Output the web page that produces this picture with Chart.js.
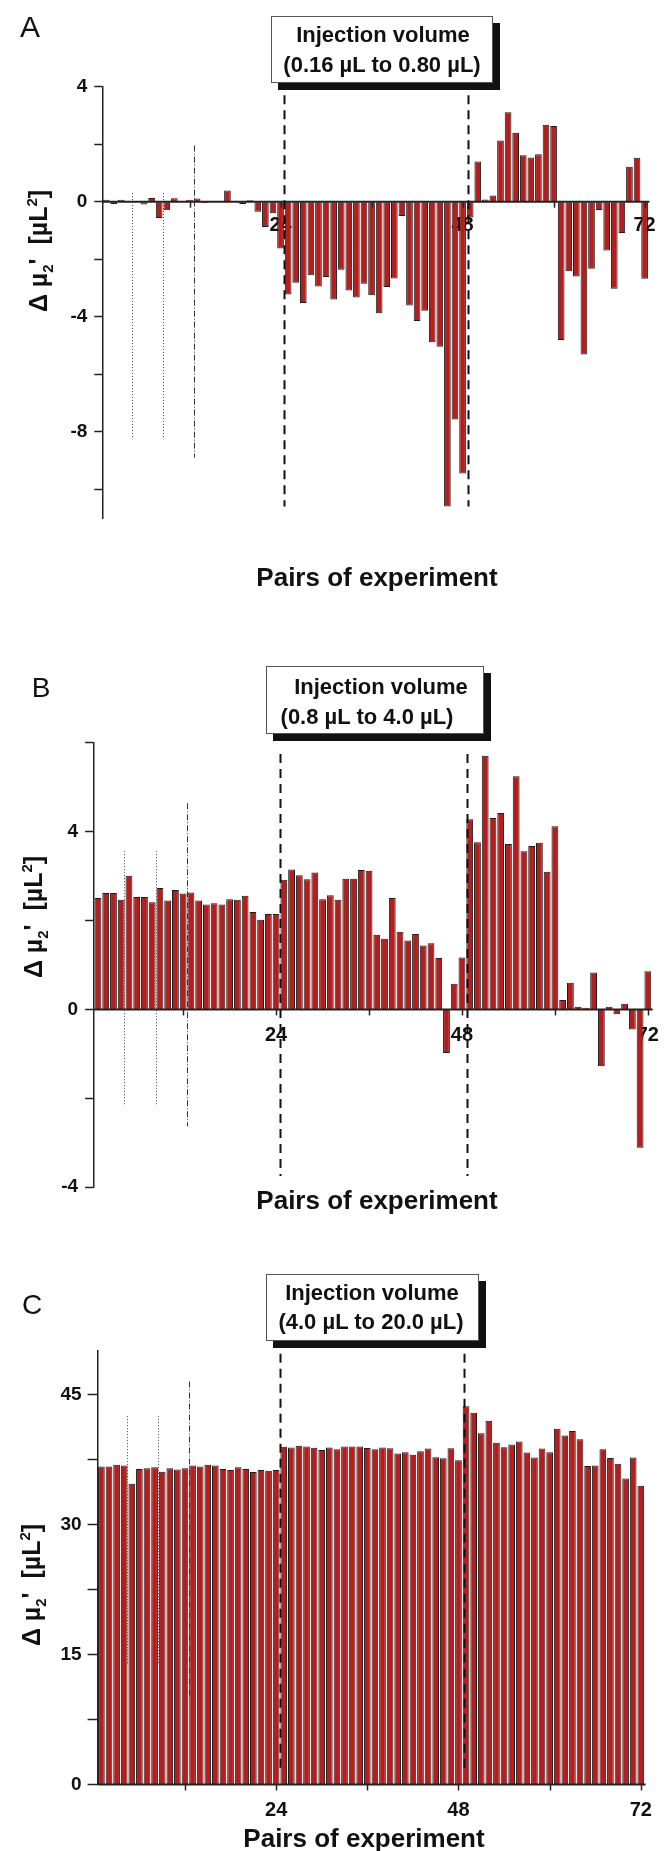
<!DOCTYPE html>
<html>
<head>
<meta charset="utf-8">
<script src="https://cdn.jsdelivr.net/npm/chart.js@4.4.1/dist/chart.umd.min.js"></script>
<style>
  html, body { margin:0; padding:0; background:#fff; }
  body { width:664px; height:1851px; position:relative; overflow:hidden; }
  canvas { position:absolute; left:0; }
  .t { position:absolute; transform:translate(-50%,-50%); white-space:nowrap; line-height:1;
       font-family:'Liberation Sans', Arial, Helvetica, sans-serif; color:#111; }
  .b { font-weight:bold; }
  .box { position:absolute; background:#fff; border:1.5px solid #555; box-shadow:7px 7px 0 #111; box-sizing:border-box; }
  .yt { transform:translate(-50%,-50%) rotate(-90deg); font-weight:bold; font-size:25px; }
  .yt sub, .yt sup { font-size:15px; line-height:0; }
</style>
</head>
<body>
<canvas id="cA" width="664" height="600" style="top:0px"></canvas>
<canvas id="cB" width="664" height="600" style="top:630px"></canvas>
<canvas id="cC" width="664" height="591" style="top:1260px"></canvas>

<!-- Panel A annotations -->
<div class="t" style="left:30px;top:27px;font-size:30px">A</div>
<div class="box" style="left:271px;top:16px;width:222px;height:67px"></div>
<div class="t b" style="left:383px;top:35px;font-size:22px">Injection volume</div>
<div class="t b" style="left:382px;top:65px;font-size:22px">(0.16 µL to 0.80 µL)</div>
<div class="t yt" style="left:38px;top:251px">Δ µ<sub>2</sub>'&nbsp;&nbsp;[µL<sup>2</sup>]</div>
<div class="t b" style="left:377px;top:577px;font-size:26px">Pairs of experiment</div>

<!-- Panel B annotations -->
<div class="t" style="left:41px;top:688px;font-size:28px">B</div>
<div class="box" style="left:266px;top:666px;width:218px;height:68px"></div>
<div class="t b" style="left:381px;top:687px;font-size:22px">Injection volume</div>
<div class="t b" style="left:367px;top:717px;font-size:22px">(0.8 µL to 4.0 µL)</div>
<div class="t yt" style="left:33px;top:917px">Δ µ<sub>2</sub>'&nbsp;&nbsp;[µL<sup>2</sup>]</div>
<div class="t b" style="left:377px;top:1200px;font-size:26px">Pairs of experiment</div>

<!-- Panel C annotations -->
<div class="t" style="left:32px;top:1305px;font-size:28px">C</div>
<div class="box" style="left:266px;top:1274px;width:213px;height:67px"></div>
<div class="t b" style="left:372px;top:1293px;font-size:22px">Injection volume</div>
<div class="t b" style="left:371px;top:1322px;font-size:22px">(4.0 µL to 20.0 µL)</div>
<div class="t yt" style="left:31px;top:1585px">Δ µ<sub>2</sub>'&nbsp;&nbsp;[µL<sup>2</sup>]</div>
<div class="t b" style="left:364px;top:1838px;font-size:26px">Pairs of experiment</div>

<script>
// ---------------- data ----------------
const pairs = [1,2,3,4,5,6,7,8,9,10,11,12,13,14,15,16,17,18,19,20,21,22,23,24,
  25,26,27,28,29,30,31,32,33,34,35,36,37,38,39,40,41,42,43,44,45,46,47,48,
  49,50,51,52,53,54,55,56,57,58,59,60,61,62,63,64,65,66,67,68,69,70,71,72];

// Panel A: injection volume 0.16 µL to 0.80 µL
const deltaA = [0.07,-0.08,0.07,0.02,0.01,-0.10,0.13,-0.57,-0.30,0.12,0.01,0.07,
  0.11,-0.05,-0.02,-0.02,0.39,0.01,-0.08,0.05,-0.35,-0.88,-0.40,-1.63,
  -3.23,-2.82,-3.52,-2.56,-2.95,-2.62,-3.40,-2.37,-3.09,-3.33,-2.85,-3.25,
  -3.88,-2.97,-2.67,-0.50,-3.61,-4.15,-3.79,-4.89,-5.04,-10.6,-7.57,-9.45,
  -0.55,1.40,0.08,0.22,2.13,3.11,2.40,1.62,1.54,1.65,2.68,2.63,
  -4.81,-2.42,-2.60,-5.31,-2.33,-0.29,-1.70,-3.03,-1.09,1.22,1.53,-2.68];

// Panel B: injection volume 0.8 µL to 4.0 µL
const deltaB = [2.51,2.62,2.62,2.47,3.01,2.53,2.53,2.41,2.73,2.45,2.69,2.61,
  2.63,2.45,2.36,2.39,2.36,2.48,2.47,2.56,2.19,2.02,2.15,2.15,
  2.92,3.15,3.02,2.93,3.08,2.48,2.57,2.47,2.94,2.94,3.14,3.12,
  1.68,1.59,2.51,1.75,1.55,1.70,1.44,1.49,1.16,-0.98,0.58,1.17,
  4.28,3.76,5.71,4.31,4.42,3.72,5.25,3.56,3.68,3.75,3.10,4.12,
  0.21,0.60,0.06,0.04,0.83,-1.28,0.06,-0.11,0.13,-0.45,-3.11,0.86];

// Panel C: injection volume 4.0 µL to 20.0 µL
const deltaC = [36.7,36.7,36.9,36.8,34.7,36.4,36.5,36.6,36.1,36.5,36.35,36.5,
  36.8,36.7,36.9,36.8,36.4,36.3,36.6,36.4,36.05,36.3,36.2,36.3,
  38.96,38.9,39.1,39.0,38.85,38.6,38.9,38.7,39.0,39.0,39.0,38.84,
  38.69,38.88,38.8,38.19,38.34,38.04,38.46,38.76,37.77,37.65,38.8,37.42,
  43.66,42.9,40.52,41.98,39.45,38.92,39.22,39.57,38.3,37.73,38.76,38.34,
  41.06,40.26,40.79,39.84,36.74,36.81,38.69,37.69,37.0,35.32,37.73,34.48];

// tick marks / labels
const xTickMarks = [12,24,36,48,60,72];
const xTickLabels = [24,48,72];
const yLabelsA = [4,0,-4,-8];
const yLabelsB = [4,0,-4];
const yLabelsC = [0,15,30,45];

// marker lines (pair positions) and their value extents per panel
const dashedPairs = [24.5, 48.7];
const dottedPairs = [4.4, 8.5];
const dashDotPairs = [12.55];
const dashedSpanA = [-10.6, 3.7],  dottedSpanA = [-8.25, 0.3],  dashDotSpanA = [-8.9, 1.95];
const dashedSpanB = [-3.75, 5.75], dottedSpanB = [-2.18, 3.56], dashDotSpanB = [-2.63, 4.64];
const dashedSpanC = [1.5, 49.7],   dottedSpanC = [13.8, 42.5],  dashDotSpanC = [10, 46.5];

// ---------------- drawing ----------------
const FONT = "'Liberation Sans', Arial, Helvetica, sans-serif";
const BAR = '#b31f1e';

const overlay = {
  id: 'overlay',
  beforeDatasetsDraw(chart, args, o) {
    const {ctx, scales: {x, y}} = chart;
    const y0 = y.getPixelForValue(0);
    ctx.save();
    ctx.font = 'bold 20px ' + FONT;
    ctx.fillStyle = '#111';
    ctx.textAlign = 'center';
    ctx.textBaseline = 'middle';
    xTickLabels.forEach(v => ctx.fillText(String(v), x.getPixelForValue(v - 1), y0 + o.labelOffset));
    ctx.restore();
  },
  afterDatasetsDraw(chart, args, o) {
    const {ctx, chartArea: a, scales: {x, y}} = chart;
    const y0 = y.getPixelForValue(0);
    ctx.save();
    // zero line / x axis
    ctx.strokeStyle = '#222'; ctx.lineWidth = 2;
    ctx.beginPath(); ctx.moveTo(a.left, y0); ctx.lineTo(a.right + 1, y0); ctx.stroke();
    // tick marks
    ctx.lineWidth = 1.5;
    xTickMarks.forEach(v => {
      const px = Math.round(x.getPixelForValue(v - 1)) + 0.5;
      ctx.beginPath(); ctx.moveTo(px, y0); ctx.lineTo(px, y0 + 6); ctx.stroke();
    });
    const vline = (p, span, dash, w, col) => {
      const px = Math.round(x.getPixelForValue(p - 1)) + 0.5;
      ctx.setLineDash(dash); ctx.lineWidth = w; ctx.strokeStyle = col;
      ctx.beginPath(); ctx.moveTo(px, y.getPixelForValue(span[1])); ctx.lineTo(px, y.getPixelForValue(span[0])); ctx.stroke();
    };
    dottedPairs.forEach(p => vline(p, o.dotted, [1, 2], 1, '#444'));
    dashDotPairs.forEach(p => vline(p, o.dashDot, [6, 2, 1, 2], 1, '#333'));
    dashedPairs.forEach(p => vline(p, o.dashed, [9, 6], 2, '#111'));
    ctx.restore();
  }
};

function makeChart(id, series, o) {
  return new Chart(document.getElementById(id), {
    type: 'bar',
    data: { labels: pairs, datasets: [{
      data: series, backgroundColor: BAR, borderColor: '#1c1c1c', borderWidth: 1,
      barPercentage: 0.88, categoryPercentage: 1
    }]},
    options: {
      responsive: false, animation: false, devicePixelRatio: 1,
      layout: { padding: { left: 0, right: o.padR, top: o.padT, bottom: o.padB } },
      plugins: {
        legend: { display: false }, tooltip: { enabled: false },
        overlay: { labelOffset: o.labelOffset, dashed: o.dashed, dotted: o.dotted, dashDot: o.dashDot }
      },
      scales: {
        x: { type: 'category', display: false, offset: true },
        y: {
          min: o.min, max: o.max,
          afterFit: s => { s.width = o.axisX; },
          ticks: { stepSize: o.step, includeBounds: false, autoSkip: false, padding: o.tickPad,
                   color: '#111', font: { family: FONT, weight: 'bold', size: 19 },
                   callback: v => o.labels.includes(v) ? String(v) : '' },
          grid: { display: true, drawOnChartArea: false, drawTicks: true,
                  tickLength: o.tickLen, tickWidth: 1.5, tickColor: '#222' },
          border: { display: true, color: '#222', width: 1.5 }
        }
      }
    },
    plugins: [overlay]
  });
}

makeChart('cA', deltaA, { min: -11, max: 4, step: 2, labels: yLabelsA,
  axisX: 102.3, padR: 15.6, padT: 86.7, padB: 82, tickLen: 8, tickPad: 7, labelOffset: 24,
  dashed: dashedSpanA, dotted: dottedSpanA, dashDot: dashDotSpanA });
makeChart('cB', deltaB, { min: -4, max: 6, step: 2, labels: yLabelsB,
  axisX: 94.1, padR: 12.3, padT: 112.8, padB: 42.8, tickLen: 9, tickPad: 7, labelOffset: 26,
  dashed: dashedSpanB, dotted: dottedSpanB, dashDot: dashDotSpanB });
makeChart('cC', deltaC, { min: 0, max: 50, step: 7.5, labels: yLabelsC,
  axisX: 97.6, padR: 19.4, padT: 91.2, padB: 66.5, tickLen: 10, tickPad: 6, labelOffset: 26,
  dashed: dashedSpanC, dotted: dottedSpanC, dashDot: dashDotSpanC });
</script>
</body>
</html>
